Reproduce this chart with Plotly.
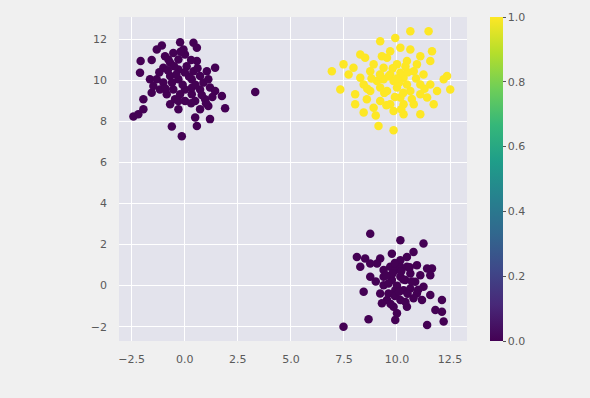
import plotly.graph_objects as go

# Cluster A (label 0), upper-left
a_x = [-2.42, -2.19, -1.95, -1.95, -1.56, -2.11, -2.08, -1.56, -1.32, -1.08, -0.22, 0.41, 0.57,
       1.43, 3.32, 1.90, 1.75, 1.19, 0.49, 0.57, -0.61, -0.14, -0.30, 0.72,
       -0.93, -0.69, -0.54, -0.30, 0.01, 0.09, 0.57, -1.01, -1.64, -1.32, -1.01, -0.69, -0.30,
       -0.54, -0.85, -0.46, 0.01, 0.33, 0.33, 0.72, 0.88, 1.11, 1.19, 1.43, 0.72, 0.96, 0.49,
       0.01, 1.11, -1.17, -0.30, 0.41, -1.48, -0.77, -0.06, 0.33, 1.04, -0.22, -0.69,
       -0.80, -0.40, 0.20, 0.50, -0.10, -0.60, 0.80, 0.30, -0.30, -1.20, -0.20, 0.30, -0.90,
       1.30, 0.60, -0.50, 0.00, 1.00]
a_y = [8.25, 8.36, 8.60, 9.09, 9.41, 10.38, 10.95, 11.00, 11.51, 11.71, 11.87, 11.84, 11.60,
       10.63, 9.44, 8.65, 9.25, 8.12, 8.20, 7.79, 7.76, 7.28, 8.60, 8.60,
       11.19, 10.87, 11.35, 11.03, 11.27, 10.70, 10.95, 10.63, 10.06, 10.06, 9.90, 10.22, 10.06,
       9.57, 9.33, 9.09, 9.57, 9.33, 10.06, 10.22, 9.90, 10.06, 9.66, 9.49, 9.57, 9.09, 9.00,
       9.00, 8.76, 9.57, 10.54, 10.46, 9.73, 11.03, 11.51, 9.65, 10.46, 9.33, 8.84,
       10.50, 10.30, 10.20, 9.80, 9.80, 9.90, 9.30, 8.90, 9.00, 10.40, 11.40, 11.00, 9.60,
       9.20, 10.60, 10.70, 10.40, 8.90]

# Cluster B (label 1), upper-right
b_x = [6.93, 7.33, 7.48, 7.95, 7.72, 8.03, 8.03, 8.27, 8.50, 8.43, 9.13, 9.84, 9.21, 9.92,
       10.63, 11.49, 11.65, 11.57, 12.36, 12.20, 12.51, 11.89, 11.10, 10.31, 9.29, 10.16, 11.10,
       8.74, 9.06, 8.74, 8.43, 9.37, 9.68, 10.00, 10.47, 10.79, 10.31, 10.00, 9.53, 9.21, 9.68,
       10.16, 10.63, 11.10, 11.25, 11.42, 10.79, 8.90, 9.53, 10.63, 9.84, 10.94, 9.21, 10.47,
       11.57, 8.58, 8.27, 10.16, 9.84, 9.37, 10.31, 11.10, 8.90, 9.68, 11.73,
       9.60, 10.10, 10.50, 9.80, 10.30, 9.90, 9.40, 10.90, 10.70, 9.20, 8.80, 10.00, 10.40,
       9.50, 11.30, 8.60, 10.20, 9.00]
b_y = [10.46, 9.57, 10.79, 10.63, 10.30, 9.33, 8.84, 11.27, 11.11, 8.44, 7.79, 7.58, 11.92, 12.08,
       12.40, 12.40, 11.43, 10.95, 10.22, 10.06, 9.57, 9.49, 8.36, 8.36, 11.19, 11.60, 11.19,
       10.46, 9.98, 9.49, 9.81, 10.63, 10.30, 10.79, 10.95, 10.46, 10.14, 9.66, 9.49, 9.00, 8.84,
       9.17, 9.49, 9.81, 10.30, 9.17, 8.84, 8.68, 11.11, 11.51, 8.52, 10.79, 9.66, 9.81,
       9.81, 9.09, 10.14, 10.38, 9.98, 10.06, 8.84, 9.33, 10.79, 11.43, 8.84,
       10.20, 9.90, 10.40, 10.60, 9.40, 9.20, 9.40, 10.10, 9.10, 10.30, 10.10, 10.10, 10.70,
       8.80, 9.60, 9.60, 8.60, 8.30]

# Cluster C (label 0), lower-right
c_x = [8.74, 10.16, 11.25, 10.78, 8.11, 8.50, 8.27, 8.74, 8.43, 7.48, 8.66, 9.92, 11.42, 12.20,
       12.12, 11.81, 12.12, 11.57, 11.65, 11.57, 9.76, 9.21,
       9.37, 9.68, 10.16, 10.47, 10.94, 11.10, 10.63, 10.16, 9.76, 9.37, 9.21, 9.53, 9.29, 9.84,
       10.16, 10.31, 9.92, 10.63, 10.94, 11.25, 10.47, 10.00, 10.78, 10.39, 10.86, 9.06, 8.74,
       9.92, 10.47, 9.60, 11.18, 10.16, 9.37, 11.42,
       9.80, 10.00, 10.30, 9.60, 10.50, 9.90, 10.20, 9.50, 10.70, 9.70, 10.10, 10.60, 9.00,
       9.90, 10.40, 11.00]
c_y = [2.53, 2.21, 2.05, 1.64, 1.40, 1.32, 0.92, 0.43, -0.30, -2.00, -1.64, -1.67, -1.92, -1.75,
       -1.27, -1.19, -0.70, -0.46, 0.84, 0.51, 1.56, 1.32,
       0.76, 0.92, 1.24, 1.40, 1.00, 0.51, 0.59, 0.43, 0.27, 0.02, -0.38, -0.70, -0.86, -1.03,
       -0.70, -0.22, -0.22, -0.14, -0.38, -0.05, -1.03, -1.35, -0.62, 0.27, 0.19, 1.08, 1.08,
       0.76, 0.92, -0.38, -0.70, 0.92, 0.43, 0.84,
       0.60, 0.00, 0.30, 0.10, -0.40, -0.50, 0.70, 0.50, 0.20, -0.90, -0.30, 0.90, 0.20,
       1.10, -0.80, -0.20]

xs = a_x + b_x + c_x
ys = a_y + b_y + c_y
labels = [0] * len(a_x) + [1] * len(b_x) + [0] * len(c_x)

x_ticks = [-2.5, 0.0, 2.5, 5.0, 7.5, 10.0, 12.5]
y_ticks = [-2, 0, 2, 4, 6, 8, 10, 12]
cb_ticks = [0.0, 0.2, 0.4, 0.6, 0.8, 1.0]

font = dict(family="DejaVu Sans", size=11, color="#5a5a5a")

fig = go.Figure(go.Scatter(
    x=xs, y=ys, mode="markers",
    marker=dict(
        size=8.5, color=labels, colorscale="Viridis", cmin=0, cmax=1,
        line=dict(width=0), opacity=1,
        colorbar=dict(
            thickness=13, len=1, lenmode="fraction", y=0.5, yanchor="middle", ypad=0,
            x=1.066, xanchor="left", xpad=0, outlinewidth=0,
            tickvals=cb_ticks, tickformat=".1f", ticks="outside", ticklen=3,
            tickcolor="#555555", tickfont=font,
        ),
    ),
    showlegend=False,
    hoverinfo="skip",
))

fig.update_layout(
    width=590, height=398,
    margin=dict(l=119, r=123, t=17, b=57),
    paper_bgcolor="#f0f0f0", plot_bgcolor="#e3e3ec",
    font=font,
)
fig.update_xaxes(range=[-3.1, 13.3], tickvals=x_ticks, tickformat=".1f",
                 gridcolor="white", gridwidth=1, zeroline=False, showline=False,
                 ticks="", tickfont=font, ticklabelstandoff=10)
fig.update_yaxes(range=[-2.7, 13.1], tickvals=y_ticks,
                 gridcolor="white", gridwidth=1, zeroline=False, showline=False,
                 ticks="", tickfont=font, ticklabelstandoff=11)

fig.write_html("out.html", config={"displayModeBar": False},
               post_script="document.body.style.margin='0';document.body.style.background='#f0f0f0';")
